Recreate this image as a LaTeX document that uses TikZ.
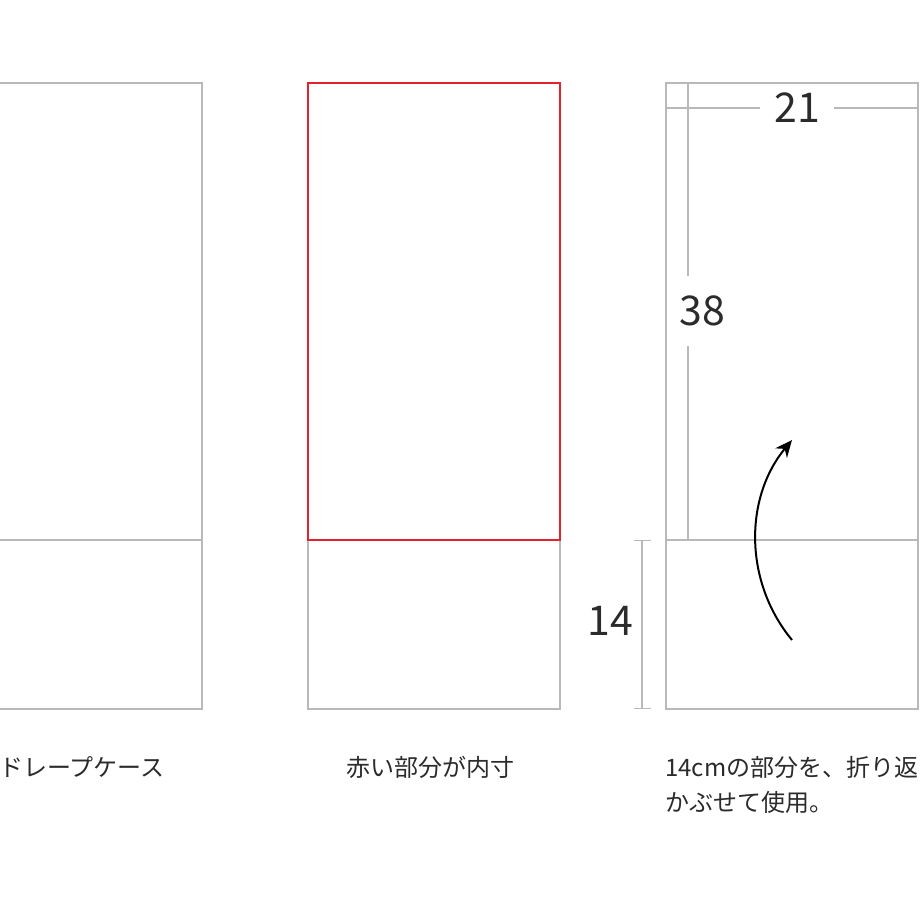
\documentclass[tikz,border=0pt]{standalone}
\usepackage{fontspec}
\setmainfont{Noto Sans CJK JP}
\usetikzlibrary{arrows.meta}
\definecolor{innerred}{HTML}{E3222B}
\definecolor{linegray}{HTML}{B9B9B9}
\definecolor{textgray}{HTML}{2B2B2B}
\begin{document}
\begin{tikzpicture}[x=1pt,y=-1pt,
    outline/.style={draw=linegray, line width=1.2pt},
    num/.style={text=textgray, font=\fontsize{41}{41}\selectfont},
    caption/.style={text=textgray, font=\fontsize{24}{35}\selectfont, inner sep=0pt, align=left}]
    \useasboundingbox (0,0) rectangle (920,919);

    % drape case, cut at the left
    \draw[outline] (-50,83) rectangle (202,709);
    \draw[outline] (-50,540) -- (202,540);
    \node[caption, anchor=west] (drape) at (-1,767) {ドレープケース};

    % inner size in red
    \draw[outline] (308,83) rectangle (560,709);
    \draw[outline] (308,540) -- (560,540);
    \draw[draw=innerred, line width=1.4pt] (308,83) rectangle (560,540);
    \node[caption, anchor=west] (inner) at (346,767) {赤い部分が内寸};

    % folded case with sizes
    \draw[outline] (666,83) rectangle (918,709);
    \draw[outline] (666,540) -- (918,540);
    \node[caption, anchor=north west] (fold) at (665,756) {14cmの部分を、折り返\\かぶせて使用。};

    \coordinate (w21) at (666,108);
    \coordinate (e21) at (918,108);
    \node[num, inner xsep=14pt] (n21) at (797,108) {21};
    \draw[outline] (w21) -- (n21.west) (n21.east) -- (e21);

    \coordinate (t38) at (688,83);
    \coordinate (b38) at (688,540);
    \node[num, inner ysep=20pt] (n38) at (702,311) {38};
    \draw[outline] (t38) -- (t38 |- n38.north) (t38 |- n38.south) -- (b38);

    \coordinate (t14) at (642,540);
    \coordinate (b14) at (642,709);
    \node[num] (n14) at (610,621) {14};
    \draw[outline, {Bar[width=17pt]}-{Bar[width=17pt]}] (t14) -- (b14);

    \coordinate (foot) at (792,640);
    \coordinate (tip) at (792,440);
    \draw[line width=2pt, -{Stealth[length=17pt,width=15pt]}] (foot) .. controls (744,582) and (744,498) .. (tip);
\end{tikzpicture}
\end{document}
